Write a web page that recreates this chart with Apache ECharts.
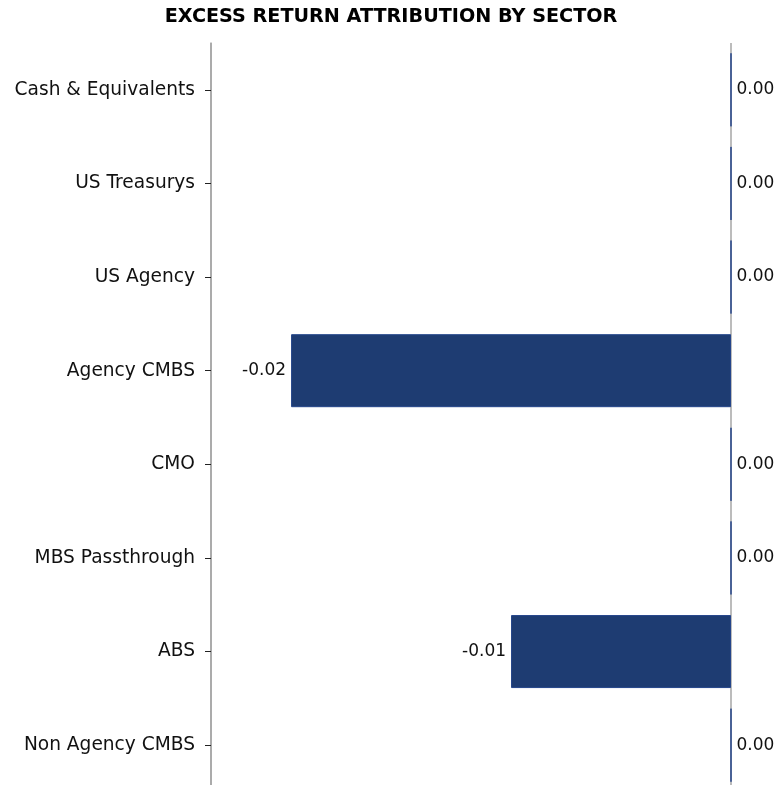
<!DOCTYPE html>
<html>
<head>
<meta charset="utf-8">
<script src="https://cdn.jsdelivr.net/npm/echarts@6/dist/echarts.min.js"></script>
<style>
  html, body { margin: 0; padding: 0; background: #fff; }
  #chart { width: 782px; height: 785px; }
</style>
</head>
<body>
<div id="chart"></div>
<script>
// 行业分类（从上到下）
var sectors = ['Cash & Equivalents', 'US Treasurys', 'US Agency', 'Agency CMBS', 'CMO', 'MBS Passthrough', 'ABS', 'Non Agency CMBS'];
// 超额收益
var excessReturn = [0, 0, 0, -0.02, 0, 0, -0.01, 0];
// x轴范围
var axisMin = -0.02364;
var axisMax = 0;

var myChart = echarts.init(document.getElementById('chart'));

var barData = excessReturn.map(function (v) {
    return {
        value: v,
        label: { position: v < 0 ? 'left' : 'right' }
    };
});

var option = {
    backgroundColor: '#ffffff',
    animation: false,
    title: {
        text: 'EXCESS RETURN ATTRIBUTION BY SECTOR',
        left: 'center',
        top: 3,
        textStyle: {
            fontFamily: 'DejaVu Sans',
            fontWeight: 'bold',
            fontSize: 19.2,
            color: '#000'
        }
    },
    grid: {
        left: 211,
        right: 51,
        top: 43,
        height: 749,
        outerBoundsMode: 'none'
    },
    xAxis: {
        type: 'value',
        min: axisMin,
        max: axisMax,
        interval: axisMax - axisMin,
        axisLine: { show: false },
        axisTick: { show: false },
        axisLabel: { show: false },
        // 只保留两端的竖线
        splitLine: {
            show: true,
            lineStyle: { color: '#a6a6a6', width: 1.5 }
        }
    },
    yAxis: {
        type: 'category',
        data: sectors,
        inverse: true,
        axisLine: {
            show: true,
            onZero: false,
            lineStyle: { color: '#a6a6a6', width: 1.5 }
        },
        axisTick: {
            show: true,
            alignWithLabel: true,
            length: 6,
            lineStyle: { color: '#222', width: 1 }
        },
        axisLabel: {
            margin: 16,
            fontFamily: 'DejaVu Sans',
            fontSize: 18.6,
            color: '#111'
        },
        splitLine: { show: false }
    },
    series: [{
        type: 'bar',
        data: barData,
        barWidth: '78%',
        itemStyle: {
            color: '#1e3c72',
            borderColor: '#24458a',
            borderWidth: 1
        },
        label: {
            show: true,
            distance: 5,
            fontFamily: 'DejaVu Sans',
            fontSize: 17,
            color: '#111',
            formatter: function (p) { return p.value.toFixed(2); }
        }
    }]
};
myChart.setOption(option);
</script>
</body>
</html>
